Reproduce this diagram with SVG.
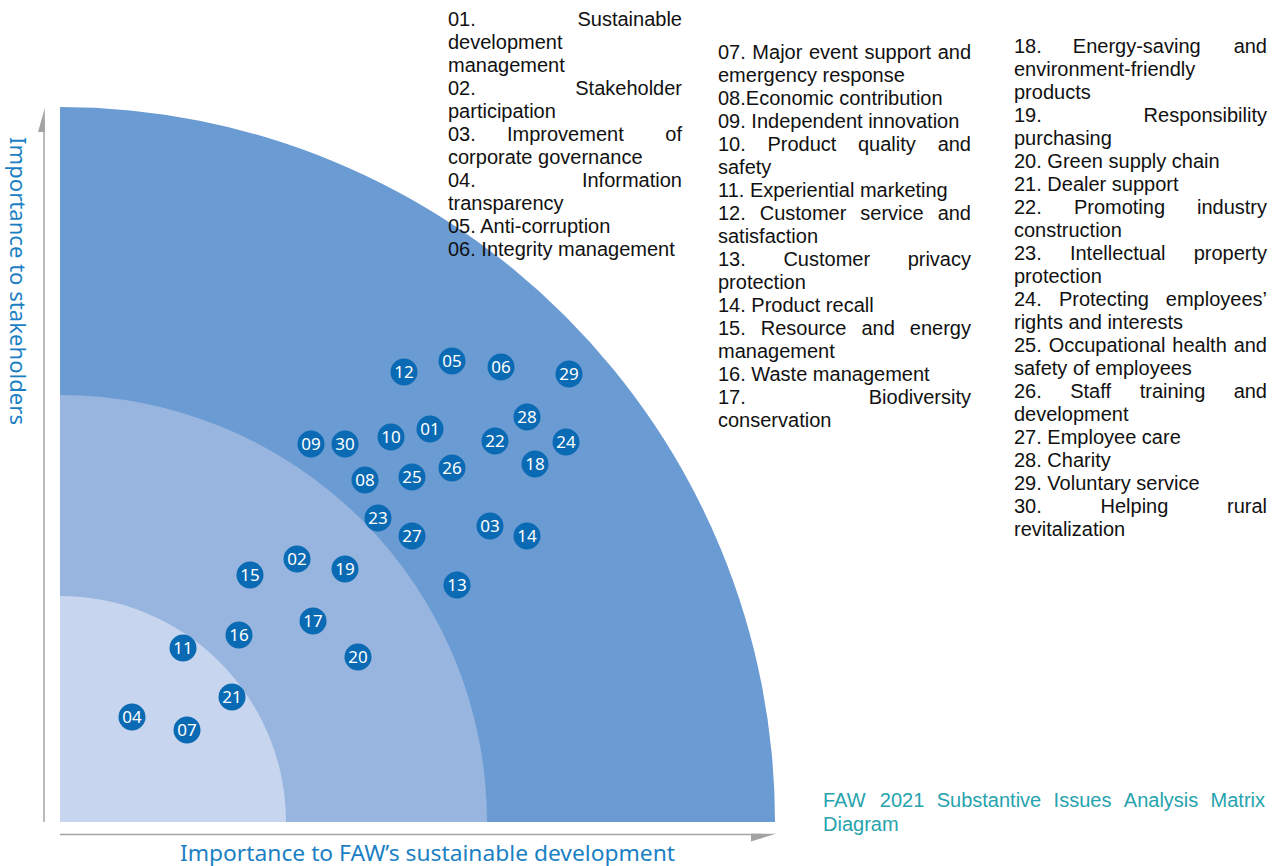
<svg xmlns="http://www.w3.org/2000/svg" width="1279" height="866" viewBox="0 0 1279 866">
<style>
.bg{fill:#fff}
.q1{fill:#6A9BD3}
.q2{fill:#97B5DF}
.q3{fill:#C7D6EE}
.ax{stroke:#A3A3A3;stroke-width:1.5;fill:none}
.ah{fill:#A3A3A3}
.mk circle{fill:#0A6AB3}
.mk text{fill:#fff;font-family:"Noto Sans","Open Sans",sans-serif;font-size:17px;text-anchor:middle}
.lg{font-family:"Liberation Sans",Arial,sans-serif;font-size:20px;fill:#111}
.e{text-anchor:end}
.axl{font-family:"Noto Sans","Liberation Sans",sans-serif;font-size:22px;fill:#1B7FC4}
.cap{font-family:"Liberation Sans",Arial,sans-serif;font-size:20px;fill:#26A3AE}
</style>
<rect class="bg" x="0" y="0" width="1279" height="866"/>

<g id="matrix">
<path class="q1" d="M60,822 L60,107 A715,715 0 0 1 775,822 Z"/>
<path class="q2" d="M60,822 L60,395 A427,427 0 0 1 487,822 Z"/>
<path class="q3" d="M60,822 L60,596 A226,226 0 0 1 286,822 Z"/>
</g>

<g id="axes">
<line class="ax" x1="44" y1="120" x2="44" y2="822"/>
<polygon class="ah" points="44.8,108 44.8,132 38,132"/>
<line class="ax" x1="60" y1="834.5" x2="762" y2="834.5"/>
<polygon class="ah" points="751,833.8 776,833.8 751,841.5"/>
</g>

<g id="connectors"></g>

<g id="markers">
<g id="m01" class="mk"><circle cx="430" cy="429" r="13.5"/><text x="430" y="435">01</text></g>
<g id="m02" class="mk"><circle cx="297" cy="559" r="13.5"/><text x="297" y="565">02</text></g>
<g id="m03" class="mk"><circle cx="490" cy="526" r="13.5"/><text x="490" y="532">03</text></g>
<g id="m04" class="mk"><circle cx="132" cy="717" r="13.5"/><text x="132" y="723">04</text></g>
<g id="m05" class="mk"><circle cx="452" cy="361" r="13.5"/><text x="452" y="367">05</text></g>
<g id="m06" class="mk"><circle cx="501" cy="367" r="13.5"/><text x="501" y="373">06</text></g>
<g id="m07" class="mk"><circle cx="187" cy="730" r="13.5"/><text x="187" y="736">07</text></g>
<g id="m08" class="mk"><circle cx="365" cy="480" r="13.5"/><text x="365" y="486">08</text></g>
<g id="m09" class="mk"><circle cx="311" cy="444" r="13.5"/><text x="311" y="450">09</text></g>
<g id="m10" class="mk"><circle cx="391" cy="437" r="13.5"/><text x="391" y="443">10</text></g>
<g id="m11" class="mk"><circle cx="183" cy="648" r="13.5"/><text x="183" y="654">11</text></g>
<g id="m12" class="mk"><circle cx="404" cy="372" r="13.5"/><text x="404" y="378">12</text></g>
<g id="m13" class="mk"><circle cx="457" cy="585" r="13.5"/><text x="457" y="591">13</text></g>
<g id="m14" class="mk"><circle cx="527" cy="536" r="13.5"/><text x="527" y="542">14</text></g>
<g id="m15" class="mk"><circle cx="250" cy="575" r="13.5"/><text x="250" y="581">15</text></g>
<g id="m16" class="mk"><circle cx="239" cy="635" r="13.5"/><text x="239" y="641">16</text></g>
<g id="m17" class="mk"><circle cx="313" cy="621" r="13.5"/><text x="313" y="627">17</text></g>
<g id="m18" class="mk"><circle cx="535" cy="464" r="13.5"/><text x="535" y="470">18</text></g>
<g id="m19" class="mk"><circle cx="345" cy="569" r="13.5"/><text x="345" y="575">19</text></g>
<g id="m20" class="mk"><circle cx="358" cy="657" r="13.5"/><text x="358" y="663">20</text></g>
<g id="m21" class="mk"><circle cx="232" cy="697" r="13.5"/><text x="232" y="703">21</text></g>
<g id="m22" class="mk"><circle cx="495" cy="441" r="13.5"/><text x="495" y="447">22</text></g>
<g id="m23" class="mk"><circle cx="378" cy="518" r="13.5"/><text x="378" y="524">23</text></g>
<g id="m24" class="mk"><circle cx="566" cy="442" r="13.5"/><text x="566" y="448">24</text></g>
<g id="m25" class="mk"><circle cx="412" cy="477" r="13.5"/><text x="412" y="483">25</text></g>
<g id="m26" class="mk"><circle cx="452" cy="468" r="13.5"/><text x="452" y="474">26</text></g>
<g id="m27" class="mk"><circle cx="412" cy="536" r="13.5"/><text x="412" y="542">27</text></g>
<g id="m28" class="mk"><circle cx="527" cy="417" r="13.5"/><text x="527" y="423">28</text></g>
<g id="m29" class="mk"><circle cx="569" cy="374" r="13.5"/><text x="569" y="380">29</text></g>
<g id="m30" class="mk"><circle cx="345" cy="444" r="13.5"/><text x="345" y="450">30</text></g>
</g>

<g id="axis-labels">
<text class="axl" transform="translate(10,137) rotate(90)" x="0" y="0" textLength="288" lengthAdjust="spacingAndGlyphs">Importance to stakeholders</text>
<text class="axl" x="180" y="861" textLength="495" lengthAdjust="spacingAndGlyphs">Importance to FAW’s sustainable development</text>
</g>

<g id="legend-col1" class="lg">
<text x="448" y="26">01.</text><text class="e" x="682" y="26">Sustainable</text>
<text x="448" y="49">development</text>
<text x="448" y="72">management</text>
<text x="448" y="95">02.</text><text class="e" x="682" y="95">Stakeholder</text>
<text x="448" y="118">participation</text>
<text x="448" y="141">03.</text><text x="507" y="141">Improvement</text><text class="e" x="682" y="141">of</text>
<text x="448" y="164">corporate governance</text>
<text x="448" y="187">04.</text><text class="e" x="682" y="187">Information</text>
<text x="448" y="210">transparency</text>
<text x="448" y="233">05. Anti-corruption</text>
<text x="448" y="256">06. Integrity management</text>
</g>

<g id="legend-col2" class="lg">
<text x="718" y="59" word-spacing="1">07. Major event support and</text>
<text x="718" y="82">emergency response</text>
<text x="718" y="105">08.Economic contribution</text>
<text x="718" y="128">09. Independent innovation</text>
<text x="718" y="151">10.</text><text x="767.5" y="151">Product</text><text x="858" y="151">quality</text><text class="e" x="971" y="151">and</text>
<text x="718" y="174">safety</text>
<text x="718" y="197">11. Experiential marketing</text>
<text x="718" y="220">12.</text><text x="759.7" y="220">Customer</text><text x="860.3" y="220">service</text><text class="e" x="971" y="220">and</text>
<text x="718" y="243">satisfaction</text>
<text x="718" y="266">13.</text><text x="783.4" y="266">Customer</text><text class="e" x="971" y="266">privacy</text>
<text x="718" y="289">protection</text>
<text x="718" y="312">14. Product recall</text>
<text x="718" y="335">15.</text><text x="760.8" y="335">Resource</text><text x="861.4" y="335">and</text><text class="e" x="971" y="335">energy</text>
<text x="718" y="358">management</text>
<text x="718" y="381">16. Waste management</text>
<text x="718" y="404">17.</text><text class="e" x="971" y="404">Biodiversity</text>
<text x="718" y="427">conservation</text>
</g>

<g id="legend-col3" class="lg">
<text x="1014" y="53">18.</text><text x="1072.8" y="53">Energy-saving</text><text class="e" x="1267" y="53">and</text>
<text x="1014" y="76">environment-friendly</text>
<text x="1014" y="99">products</text>
<text x="1014" y="122">19.</text><text class="e" x="1267" y="122">Responsibility</text>
<text x="1014" y="145">purchasing</text>
<text x="1014" y="168">20. Green supply chain</text>
<text x="1014" y="191">21. Dealer support</text>
<text x="1014" y="214">22.</text><text x="1073.9" y="214">Promoting</text><text class="e" x="1267" y="214">industry</text>
<text x="1014" y="237">construction</text>
<text x="1014" y="260">23.</text><text x="1069.9" y="260">Intellectual</text><text class="e" x="1267" y="260">property</text>
<text x="1014" y="283">protection</text>
<text x="1014" y="306">24.</text><text x="1058.9" y="306">Protecting</text><text class="e" x="1267" y="306">employees’</text>
<text x="1014" y="329">rights and interests</text>
<text x="1014" y="352">25.</text><text x="1048.7" y="352">Occupational</text><text x="1172.3" y="352">health</text><text class="e" x="1267" y="352">and</text>
<text x="1014" y="375">safety of employees</text>
<text x="1014" y="398">26.</text><text x="1070.2" y="398">Staff</text><text x="1139.7" y="398">training</text><text class="e" x="1267" y="398">and</text>
<text x="1014" y="421">development</text>
<text x="1014" y="444">27. Employee care</text>
<text x="1014" y="467">28. Charity</text>
<text x="1014" y="490">29. Voluntary service</text>
<text x="1014" y="513">30.</text><text x="1100.5" y="513">Helping</text><text class="e" x="1267" y="513">rural</text>
<text x="1014" y="536">revitalization</text>
</g>

<g id="caption" class="cap">
<text x="823" y="807">FAW</text><text x="879.8" y="807">2021</text><text x="936.7" y="807">Substantive</text><text x="1053.6" y="807">Issues</text><text x="1123.8" y="807">Analysis</text><text class="e" x="1265" y="807">Matrix</text>
<text x="823" y="831">Diagram</text>
</g>
</svg>
